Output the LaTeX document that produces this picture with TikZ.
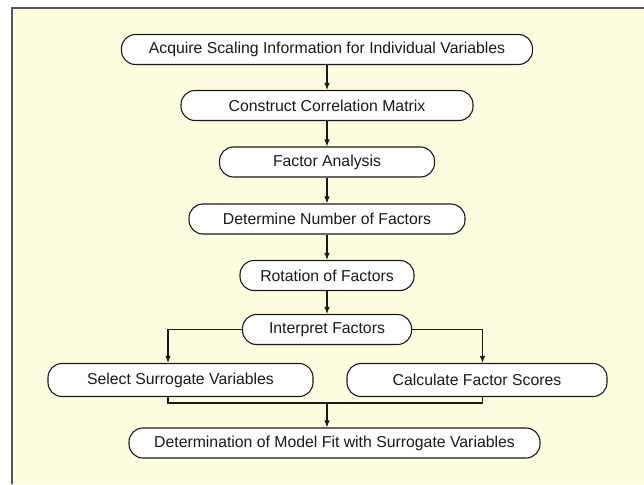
\documentclass[tikz,border=0pt]{standalone}
\usepackage{fontspec}
\setmainfont{Liberation Sans}
\usetikzlibrary{arrows.meta}
\definecolor{panel}{HTML}{FFFDE0}
\definecolor{framegray}{HTML}{555555}
\definecolor{inkc}{HTML}{1A1A1A}
\tikzset{
  stepbox/.style={draw=inkc, fill=white, line width=1.1pt, rounded corners=14pt,
    minimum height=30pt, inner sep=0pt, text=inkc,
    font=\fontsize{15.8}{18}\selectfont},
  link/.style={draw=inkc, line width=1.1pt},
  arr/.style={link, -{Latex[length=7pt,width=5.5pt]}}
}
\begin{document}
\begin{tikzpicture}[x=1pt,y=-1pt]
  \useasboundingbox (0,0) rectangle (644,484);
  % panel with its frame on the left and top edges
  \fill[panel] (12,8) rectangle (644,484);
  \draw[framegray, line width=2pt] (12,484) -- (12,8) -- (644,8);

  % process steps
  \node[stepbox, minimum width=411pt] (acq) at (327,49.5) {Acquire Scaling Information for Individual Variables};
  \node[stepbox, minimum width=292pt] (con) at (327,105.5) {Construct Correlation Matrix};
  \node[stepbox, minimum width=215pt] (fa)  at (327,162) {Factor Analysis};
  \node[stepbox, minimum width=276pt] (det) at (327,219) {Determine Number of Factors};
  \node[stepbox, minimum width=174pt] (rot) at (327,275.5) {Rotation of Factors};
  \node[stepbox, minimum width=169pt] (ip)  at (327,329.5) {Interpret Factors};
  \node[stepbox, minimum width=265pt, minimum height=33pt] (sel)  at (180.5,380) {Select Surrogate Variables};
  \node[stepbox, minimum width=260pt, minimum height=33pt] (calc) at (477,380) {Calculate Factor Scores};
  \node[stepbox, minimum width=411pt] (fit) at (334.5,443) {Determination of Model Fit with Surrogate Variables};

  % branch and merge columns
  \coordinate (lx) at (168,0);
  \coordinate (rx) at (482.5,0);
  \coordinate (mj) at (327,403);

  % main sequence
  \draw[arr] (acq) -- (con);
  \draw[arr] (con) -- (fa);
  \draw[arr] (fa) -- (det);
  \draw[arr] (det) -- (rot);
  \draw[arr] (rot) -- (ip);

  % split into the two alternatives
  \draw[arr] (ip.west) -| (lx |- sel.north);
  \draw[arr] (ip.east) -| (rx |- calc.north);

  % merge back into the final step
  \draw[link] (lx |- sel.south) |- (mj) -| (rx |- calc.south);
  \draw[arr] (mj) -- (mj |- fit.north);
\end{tikzpicture}
\end{document}
